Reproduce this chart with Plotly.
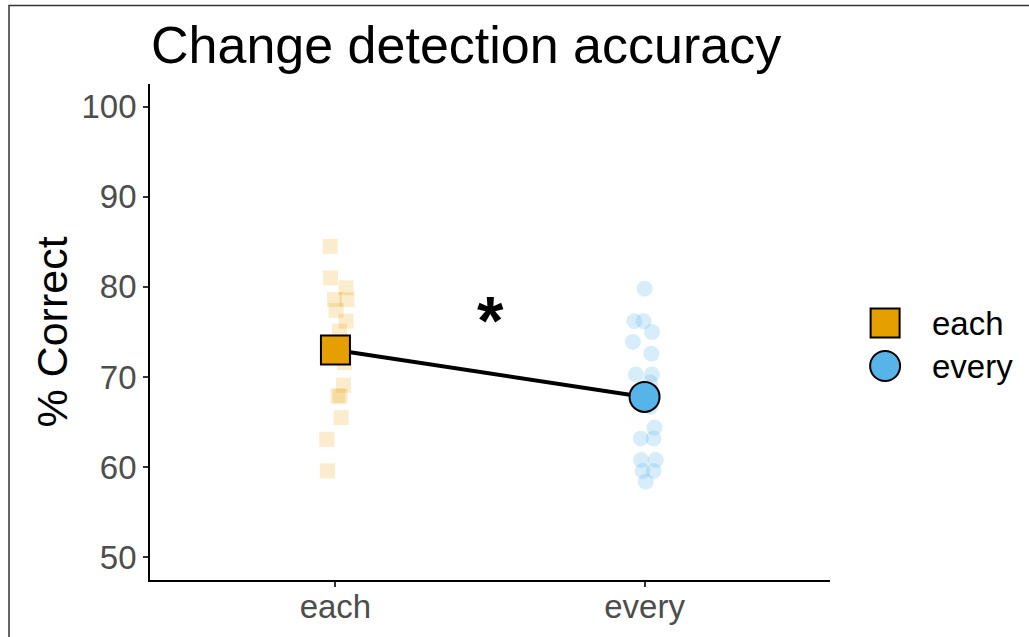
import plotly.graph_objects as go

# ---- data ----
conditions = ["each", "every"]
each_values = [84.5, 81.0, 79.9, 78.6, 78.6, 77.4, 76.2, 75.1, 71.6, 69.1, 67.9, 67.9, 65.5, 63.1, 59.6]
each_jitter = [-0.017, -0.016, 0.034, -0.003, 0.037, 0.002, 0.034, 0.013, 0.029, 0.026, 0.015, 0.008, 0.018, -0.028, -0.026]
every_values = [79.8, 76.2, 76.2, 75.0, 73.9, 72.6, 70.3, 70.3, 69.4, 66.7, 64.4, 63.2, 63.2, 60.8, 60.8, 59.6, 59.6, 58.4]
every_jitter = [0.0, -0.033, -0.003, 0.024, -0.038, 0.022, -0.028, 0.024, 0.018, 0.018, 0.032, -0.012, 0.029, -0.011, 0.036, -0.006, 0.029, 0.004]
each_mean = 73.0
every_mean = 67.8
y_ticks = [50, 60, 70, 80, 90, 100]

ORANGE = "#E69F00"
BLUE = "#56B4E9"
FONT = "Liberation Sans, Arial, sans-serif"

W, H = 1029, 637
L, R, T, B = 150, 10, 84, 57
PW = W - L - R
PH = H - T - B
main_dom = [0, 680 / PW]
leg_dom = [(860 - L) / PW, (1019 - L) / PW]

fig = go.Figure()

fig.add_trace(go.Scatter(
    x=[1 + j for j in each_jitter], y=each_values, mode="markers",
    marker=dict(symbol="square", size=15, color=ORANGE, opacity=0.2, line=dict(width=0)),
    showlegend=False, hoverinfo="skip"))
fig.add_trace(go.Scatter(
    x=[2 + j for j in every_jitter], y=every_values, mode="markers",
    marker=dict(symbol="circle", size=16, color=BLUE, opacity=0.24, line=dict(width=0)),
    showlegend=False, hoverinfo="skip"))

fig.add_trace(go.Scatter(
    x=[1, 2], y=[each_mean, every_mean], mode="lines",
    line=dict(color="black", width=4), showlegend=False, hoverinfo="skip"))

fig.add_trace(go.Scatter(
    x=[1], y=[each_mean], mode="markers", name="each", showlegend=False,
    marker=dict(symbol="square", size=29, color=ORANGE, opacity=1, line=dict(color="black", width=2))))
fig.add_trace(go.Scatter(
    x=[2], y=[every_mean], mode="markers", name="every", showlegend=False,
    marker=dict(symbol="circle", size=30, color=BLUE, opacity=1, line=dict(color="black", width=2))))

# legend drawn on a small auxiliary axis (keys larger than plotly's capped legend symbols)
legend_labels = conditions
legend_symbols = ["square", "circle"]
legend_colors = [ORANGE, BLUE]
legend_rows = [0.0, 1.0]
fig.add_trace(go.Scatter(
    x=[0, 0], y=legend_rows, mode="markers", xaxis="x2", yaxis="y2",
    marker=dict(symbol=legend_symbols, size=[29, 30], color=legend_colors, opacity=1,
                line=dict(color="black", width=2)),
    showlegend=False, hoverinfo="skip"))
for lab, row in zip(legend_labels, legend_rows):
    fig.add_annotation(x=0.54, y=row, xref="x2", yref="y2", text=lab, showarrow=False,
                       xanchor="left", yanchor="middle", font=dict(size=33, color="black"))

fig.add_annotation(x=1.5, y=76.3, text="<b>*</b>", showarrow=False,
                   font=dict(size=68, color="black", family=FONT), xanchor="center", yanchor="middle")

fig.add_shape(type="rect", xref="paper", yref="paper", x0=-(L - 9) / PW, x1=1.2, y0=-0.3,
              y1=(580 - 5.5) / PH,
              line=dict(color="#333333", width=1.5), fillcolor="rgba(0,0,0,0)", layer="below")

fig.update_layout(
    width=W, height=H,
    margin=dict(l=L, r=R, t=T, b=B, autoexpand=False),
    paper_bgcolor="white", plot_bgcolor="white",
    font=dict(family=FONT),
    title=dict(text="Change detection accuracy", x=151 / W, xanchor="left",
               y=1 - 45 / H, yanchor="middle", font=dict(size=52, color="black")),
    showlegend=False,
    hovermode=False,
    xaxis=dict(domain=main_dom, range=[0.4, 2.6], tickvals=[1, 2], ticktext=conditions,
               showline=True, linecolor="black", linewidth=1.8, automargin=False,
               ticks="outside", ticklen=5, tickcolor="#333333", tickwidth=1.8,
               ticklabelstandoff=-9,
               showgrid=False, zeroline=False,
               tickfont=dict(size=33, color="#4D4D4D")),
    yaxis=dict(range=[47.5, 102.5], tickvals=y_ticks, automargin=False,
               showline=True, linecolor="black", linewidth=1.8,
               ticks="outside", ticklen=5, tickcolor="#333333", tickwidth=1.8,
               showgrid=False, zeroline=False,
               tickfont=dict(size=33, color="#4D4D4D"),
               title=dict(text="% Correct", font=dict(size=43, color="black"), standoff=0)),
    xaxis2=dict(domain=leg_dom, range=[-0.3, 1.6], visible=False, anchor="y2"),
    # 1 unit = 43 px; row 0 at y=323 px, row 1 at y=366 px
    yaxis2=dict(domain=[0, 1], range=[(580 - 323) / 43, -(323 - 84) / 43],
                visible=False, anchor="x2"),
)

fig.write_html("out.html", config={"displayModeBar": False},
               post_script="document.body.style.margin='0';")
